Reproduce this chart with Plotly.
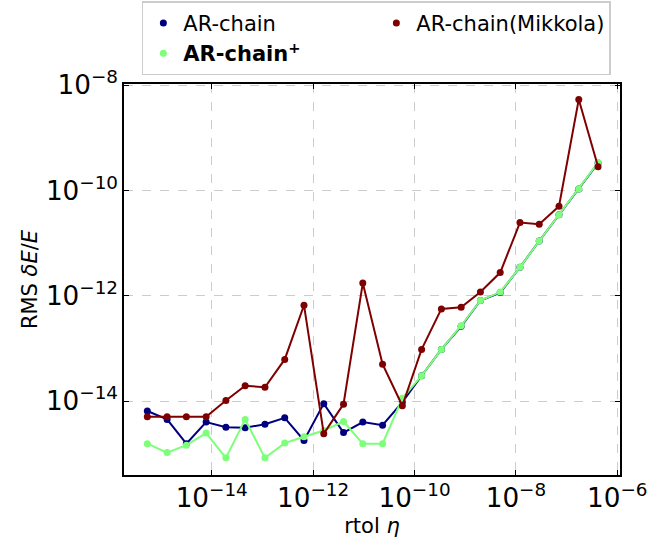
import plotly.graph_objects as go

# log10 of rtol (x) values
log_rtol = [-15.27, -14.88, -14.50, -14.11, -13.72, -13.34, -12.95, -12.56,
            -12.18, -11.79, -11.40, -11.02, -10.63, -10.24, -9.86, -9.47,
            -9.08, -8.70, -8.31, -7.92, -7.54, -7.15, -6.76, -6.38]

# log10 of RMS dE/E for each series
log_ar_chain = [-14.19, -14.35, -14.81, -14.40, -14.50, -14.51, -14.44, -14.32,
                -14.75, -14.05, -14.60, -14.40, -14.46, -14.02, -13.52, -13.02,
                -12.58, -12.09, -11.94, -11.46, -10.96, -10.46, -9.97, -9.48]
log_ar_chain_plus = [-14.81, -14.98, -14.84, -14.61, -15.08, -14.35, -15.08, -14.80,
                     -14.68, -14.56, -14.39, -14.81, -14.81, -13.95, -13.52, -13.02,
                     -12.57, -12.09, -11.93, -11.46, -10.96, -10.46, -9.97, -9.47]
log_mikkola = [-14.30, -14.30, -14.30, -14.30, -13.99, -13.71, -13.74, -13.21,
               -12.18, -14.62, -14.06, -11.76, -13.30, -14.09, -13.02, -12.25,
               -12.22, -11.93, -11.56, -10.61, -10.64, -10.30, -8.27, -9.55]

names = ["AR-chain", "<b>AR-chain<sup>+</sup></b>", "AR-chain(Mikkola)"]
colors = ["#00007f", "#7dff7a", "#7f0000"]
series = [log_ar_chain, log_ar_chain_plus, log_mikkola]
legend_rank = [1, 3, 2]

x = [10 ** v for v in log_rtol]

fig = go.Figure()
for name, col, ys in zip(names, colors, series):
    fig.add_trace(go.Scatter(
        x=x, y=[10 ** v for v in ys], mode="lines+markers",
        line=dict(color=col, width=2), marker=dict(color=col, size=7),
        showlegend=False, name=name,
    ))
# marker-only legend entries
for name, col, rk in zip(names, colors, legend_rank):
    fig.add_trace(go.Scatter(
        x=[None], y=[None], mode="markers", name=name, legendrank=rk,
        marker=dict(color=col, size=7),
    ))

font = "DejaVu Sans"
axis_common = dict(
    type="log", showline=True, linecolor="black", linewidth=1.5, mirror="ticks",
    ticks="inside", ticklen=5, tickwidth=1.2, tickcolor="black",
    showgrid=True, gridcolor="#cccccc", griddash="dash", gridwidth=1,
    exponentformat="power", tick0=0, dtick=2,
    tickfont=dict(family=font, size=21, color="black"),
)

fig.update_layout(
    width=662, height=545,
    margin=dict(l=124, r=42, t=84, b=70, autoexpand=False),
    paper_bgcolor="white", plot_bgcolor="white",
    font=dict(family=font, size=21, color="black"),
    xaxis=dict(range=[-15.73, -5.947],
               title=dict(text="rtol <i>η</i>", font=dict(size=21), standoff=6),
               **axis_common),
    yaxis=dict(range=[-15.406, -7.977],
               title=dict(text="RMS <i>δE</i>/<i>E</i>", font=dict(size=21), standoff=3),
               **axis_common),
    legend=dict(
        orientation="h", x=0.036, y=1.2115, xanchor="left", yanchor="top",
        entrywidth=188, entrywidthmode="pixels", itemwidth=30,
        bgcolor="white", bordercolor="#cccccc", borderwidth=1.5,
        font=dict(family=font, size=21, color="black"),
        traceorder="normal",
    ),
)

fig.write_html("out.html", config={"displayModeBar": False},
               post_script="document.body.style.margin='0';")
